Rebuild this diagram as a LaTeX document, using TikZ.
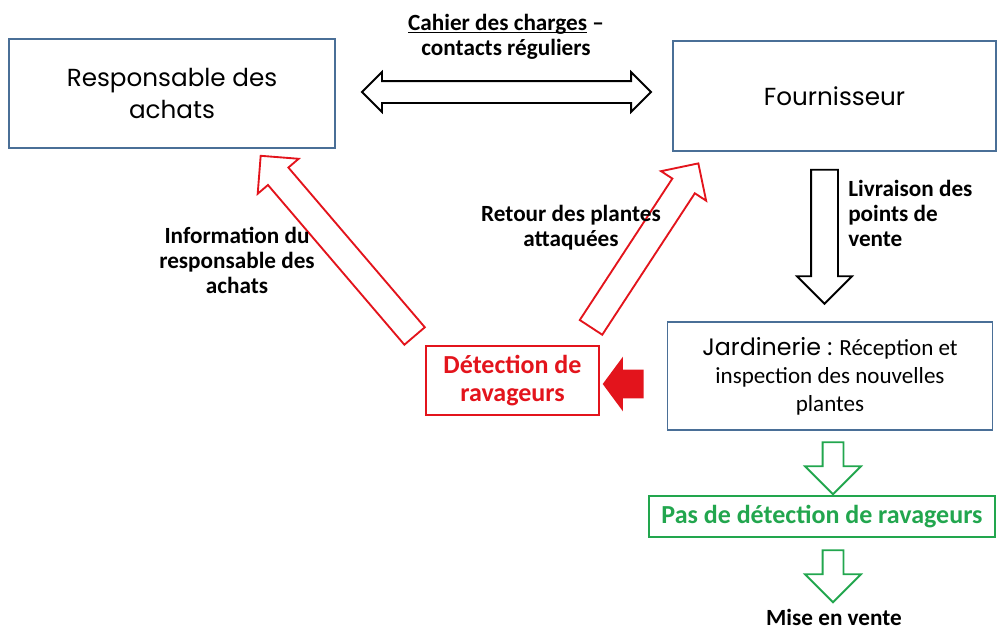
\documentclass[tikz,border=0pt]{standalone}
\usepackage{fontspec}
\setmainfont{Carlito}
\newfontfamily\gothic{Poppins}
\usetikzlibrary{shapes.arrows}

\definecolor{boxblue}{HTML}{4A6F97}
\definecolor{pestred}{HTML}{E3141C}
\definecolor{okgreen}{HTML}{22A64E}
\newcommand{\pxl}{0.75pt}
\newcommand{\lowline}[1]{\setbox0\hbox{#1}\rlap{\rule[-2.2pt]{\wd0}{0.9pt}}\box0\relax}

\tikzset{
  actor/.style={draw=boxblue, line width=1.3pt, inner sep=0pt, align=center},
  lbl/.style={font=\bfseries\fontsize{17.4}{18.75}\selectfont, align=center, inner sep=0pt},
  hollow/.style={single arrow, draw, line width=1.4pt, inner xsep=0pt, single arrow tip angle=90},
}

\begin{document}
\begin{tikzpicture}[x=0.75pt,y=-0.75pt]
  \useasboundingbox (0,0) rectangle (997,633);

  % boxes
  \node[actor, minimum width=326*\pxl, minimum height=109*\pxl,
        font=\gothic\fontsize{18.5}{23.5}\selectfont] (resp) at (172,93.5) {Responsable des\\achats};
  \node[actor, minimum width=323*\pxl, minimum height=110*\pxl,
        font=\gothic\fontsize{18.5}{23.5}\selectfont] (four) at (834.5,96) {Fournisseur};
  \node[actor, minimum width=325*\pxl, minimum height=108*\pxl,
        font=\fontsize{17.3}{21}\selectfont] (jard) at (830,376)
        {{\gothic\fontsize{17.8}{21}\selectfont Jardinerie :} Réception et\\inspection des nouvelles\\plantes};
  \node[actor, draw=pestred, text=pestred, line width=1.6pt, minimum width=173*\pxl, minimum height=69*\pxl,
        font=\bfseries\fontsize{19.5}{21}\selectfont] (detect) at (512.5,380.5) {Détection de\\ravageurs};
  \node[actor, draw=okgreen, text=okgreen, line width=1.6pt, minimum width=346*\pxl, minimum height=41*\pxl,
        font=\bfseries\fontsize{19.5}{21}\selectfont] (nodetect) at (822,516.5) {Pas de détection de ravageurs};
  \node[lbl] (vente) at (834,617) {Mise en vente};

  % block arrows
  \node[double arrow, draw, line width=1.4pt, inner xsep=0pt, inner ysep=10*\pxl, double arrow tip angle=90,
        double arrow head extend=9*\pxl, minimum width=38*\pxl, minimum height=289*\pxl]
        (contact) at (506.5,92) {};
  \node[hollow, rotate=-90, inner ysep=12.5*\pxl, single arrow head extend=14*\pxl,
        minimum width=53*\pxl, minimum height=134*\pxl] (livr) at (824.5,230) {};
  \node[hollow, draw=pestred, rotate=130.5, inner ysep=12.5*\pxl, single arrow head extend=13.5*\pxl,
        minimum width=52*\pxl, minimum height=237*\pxl] (info) at (342,251) {};
  \node[hollow, draw=pestred, rotate=56.8, inner ysep=12.5*\pxl, single arrow head extend=13.5*\pxl,
        minimum width=53*\pxl, minimum height=196*\pxl] (retour) at (641,251) {};
  \node[single arrow, fill=pestred, inner xsep=0pt, inner ysep=14*\pxl, single arrow tip angle=107,
        rotate=180, single arrow head extend=13*\pxl, minimum width=54*\pxl, minimum height=41*\pxl]
        (alerte) at (628.5,384) {};
  \node[hollow, draw=okgreen, rotate=-90, inner ysep=9.5*\pxl, single arrow head extend=17.5*\pxl,
        minimum width=54*\pxl, minimum height=52*\pxl] (ok1) at (833,463) {};
  \node[hollow, draw=okgreen, rotate=-90, inner ysep=9.5*\pxl, single arrow head extend=17.5*\pxl,
        minimum width=54*\pxl, minimum height=52*\pxl] (ok2) at (833,571) {};

  % labels
  \node[lbl] (cahier) at (506,36.5) {\lowline{Cahier des charges} –\\contacts réguliers};
  \node[lbl, anchor=west, align=left] (livrlbl) at (848,213) {Livraison des\\points de\\vente};
  \node[lbl] (infolbl) at (237,260) {Information du\\responsable des\\achats};
  \node[lbl] (retourlbl) at (571,228) {Retour des plantes\\attaquées};
\end{tikzpicture}
\end{document}
